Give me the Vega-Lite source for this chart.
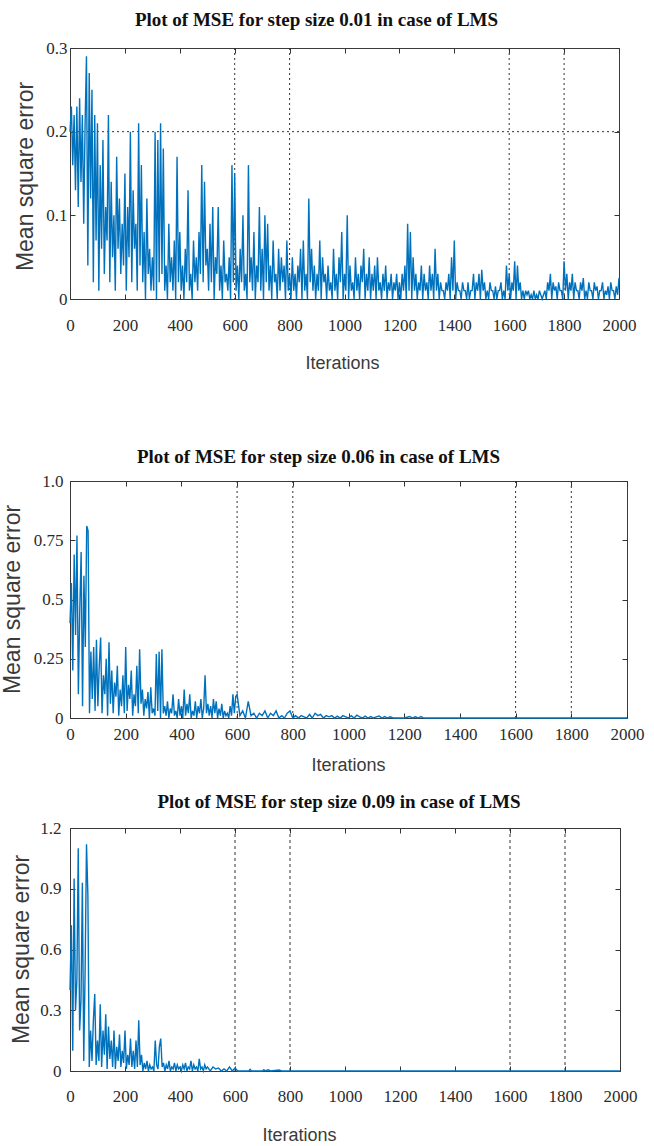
{
"$schema": "https://vega.github.io/schema/vega-lite/v6.json",
"background": "white",
"padding": {"top": 10, "left": 0, "right": 0, "bottom": 0},
"config": {
  "view": {"stroke": "#3a3a3a", "strokeWidth": 1},
  "axis": {"grid": false, "domain": false, "labelFont": "Liberation Serif", "labelFontSize": 17, "labelColor": "#2b2b2b", "labelOverlap": false, "labelFlush": false, "titleFont": "Liberation Sans", "titleFontWeight": "normal", "titleColor": "#3a3a3a", "tickColor": "#333", "tickSize": -5, "tickWidth": 1},
  "title": {"font": "Liberation Serif", "fontSize": 19, "fontWeight": "bold", "color": "#111"}
},
"datasets": {
  "vgrid": [{"it": 600}, {"it": 800}, {"it": 1600}, {"it": 1800}],
  "hgrid": [{"mse": 0.2}],
  "s001": [
{"it":0,"mse":0.20},{"it":5,"mse":0.23},{"it":10,"mse":0.16},{"it":15,"mse":0.22},{"it":20,"mse":0.13},{"it":25,"mse":0.23},{"it":30,"mse":0.11},{"it":35,"mse":0.24},{"it":40,"mse":0.14},{"it":45,"mse":0.22},{"it":50,"mse":0.09},{"it":55,"mse":0.21},{"it":60,"mse":0.29},{"it":65,"mse":0.04},{"it":70,"mse":0.27},{"it":75,"mse":0.12},{"it":80,"mse":0.25},{"it":85,"mse":0.02},{"it":90,"mse":0.22},{"it":95,"mse":0.07},
{"it":100,"mse":0.21},{"it":105,"mse":0.01},{"it":110,"mse":0.16},{"it":115,"mse":0.06},{"it":120,"mse":0.19},{"it":125,"mse":0.03},{"it":130,"mse":0.11},{"it":135,"mse":0.07},{"it":140,"mse":0.22},{"it":145,"mse":0.02},{"it":150,"mse":0.14},{"it":155,"mse":0.05},{"it":160,"mse":0.10},{"it":165,"mse":0.01},{"it":170,"mse":0.17},{"it":175,"mse":0.06},{"it":180,"mse":0.12},{"it":185,"mse":0.03},{"it":190,"mse":0.09},{"it":195,"mse":0.04},
{"it":200,"mse":0.15},{"it":205,"mse":0.01},{"it":210,"mse":0.11},{"it":215,"mse":0.05},{"it":220,"mse":0.20},{"it":225,"mse":0.02},{"it":230,"mse":0.13},{"it":235,"mse":0.06},{"it":240,"mse":0.09},{"it":245,"mse":0.01},{"it":250,"mse":0.21},{"it":255,"mse":0.04},{"it":260,"mse":0.16},{"it":265,"mse":0.02},{"it":270,"mse":0.08},{"it":275,"mse":0.00},{"it":280,"mse":0.12},{"it":285,"mse":0.03},{"it":290,"mse":0.06},{"it":295,"mse":0.01},
{"it":300,"mse":0.05},{"it":305,"mse":0.01},{"it":310,"mse":0.20},{"it":315,"mse":0.00},{"it":320,"mse":0.19},{"it":325,"mse":0.02},{"it":330,"mse":0.21},{"it":335,"mse":0.03},{"it":340,"mse":0.18},{"it":345,"mse":0.01},{"it":350,"mse":0.04},{"it":355,"mse":0.00},{"it":360,"mse":0.09},{"it":365,"mse":0.02},{"it":370,"mse":0.05},{"it":375,"mse":0.01},{"it":380,"mse":0.07},{"it":385,"mse":0.00},{"it":390,"mse":0.17},{"it":395,"mse":0.02},
{"it":400,"mse":0.08},{"it":405,"mse":0.01},{"it":410,"mse":0.04},{"it":415,"mse":0.00},{"it":420,"mse":0.06},{"it":425,"mse":0.02},{"it":430,"mse":0.13},{"it":435,"mse":0.01},{"it":440,"mse":0.03},{"it":445,"mse":0.00},{"it":450,"mse":0.07},{"it":455,"mse":0.02},{"it":460,"mse":0.05},{"it":465,"mse":0.01},{"it":470,"mse":0.08},{"it":475,"mse":0.03},{"it":480,"mse":0.16},{"it":485,"mse":0.02},{"it":490,"mse":0.14},{"it":495,"mse":0.04},
{"it":500,"mse":0.06},{"it":505,"mse":0.01},{"it":510,"mse":0.09},{"it":515,"mse":0.02},{"it":520,"mse":0.11},{"it":525,"mse":0.00},{"it":530,"mse":0.05},{"it":535,"mse":0.03},{"it":540,"mse":0.11},{"it":545,"mse":0.01},{"it":550,"mse":0.04},{"it":555,"mse":0.00},{"it":560,"mse":0.07},{"it":565,"mse":0.02},{"it":570,"mse":0.03},{"it":575,"mse":0.01},{"it":580,"mse":0.05},{"it":585,"mse":0.00},{"it":590,"mse":0.16},{"it":595,"mse":0.02},
{"it":600,"mse":0.15},{"it":605,"mse":0.01},{"it":610,"mse":0.04},{"it":615,"mse":0.00},{"it":620,"mse":0.06},{"it":625,"mse":0.02},{"it":630,"mse":0.10},{"it":635,"mse":0.01},{"it":640,"mse":0.03},{"it":645,"mse":0.00},{"it":650,"mse":0.16},{"it":655,"mse":0.02},{"it":660,"mse":0.05},{"it":665,"mse":0.01},{"it":670,"mse":0.08},{"it":675,"mse":0.00},{"it":680,"mse":0.04},{"it":685,"mse":0.02},{"it":690,"mse":0.11},{"it":695,"mse":0.01},
{"it":700,"mse":0.06},{"it":705,"mse":0.00},{"it":710,"mse":0.10},{"it":715,"mse":0.02},{"it":720,"mse":0.09},{"it":725,"mse":0.01},{"it":730,"mse":0.04},{"it":735,"mse":0.00},{"it":740,"mse":0.07},{"it":745,"mse":0.02},{"it":750,"mse":0.03},{"it":755,"mse":0.00},{"it":760,"mse":0.06},{"it":765,"mse":0.01},{"it":770,"mse":0.05},{"it":775,"mse":0.02},{"it":780,"mse":0.04},{"it":785,"mse":0.00},{"it":790,"mse":0.07},{"it":795,"mse":0.01},
{"it":800,"mse":0.03},{"it":805,"mse":0.00},{"it":810,"mse":0.05},{"it":815,"mse":0.01},{"it":820,"mse":0.03},{"it":825,"mse":0.00},{"it":830,"mse":0.04},{"it":835,"mse":0.02},{"it":840,"mse":0.06},{"it":845,"mse":0.00},{"it":850,"mse":0.07},{"it":855,"mse":0.01},{"it":860,"mse":0.03},{"it":865,"mse":0.00},{"it":870,"mse":0.12},{"it":875,"mse":0.02},{"it":880,"mse":0.06},{"it":885,"mse":0.01},{"it":890,"mse":0.04},{"it":895,"mse":0.00},
{"it":900,"mse":0.03},{"it":905,"mse":0.01},{"it":910,"mse":0.07},{"it":915,"mse":0.00},{"it":920,"mse":0.05},{"it":925,"mse":0.02},{"it":930,"mse":0.03},{"it":935,"mse":0.00},{"it":940,"mse":0.04},{"it":945,"mse":0.01},{"it":950,"mse":0.02},{"it":955,"mse":0.00},{"it":960,"mse":0.06},{"it":965,"mse":0.01},{"it":970,"mse":0.03},{"it":975,"mse":0.00},{"it":980,"mse":0.05},{"it":985,"mse":0.02},{"it":990,"mse":0.08},{"it":995,"mse":0.00},
{"it":1000,"mse":0.03},{"it":1005,"mse":0.01},{"it":1010,"mse":0.10},{"it":1015,"mse":0.00},{"it":1020,"mse":0.04},{"it":1025,"mse":0.01},{"it":1030,"mse":0.02},{"it":1035,"mse":0.00},{"it":1040,"mse":0.05},{"it":1045,"mse":0.01},{"it":1050,"mse":0.03},{"it":1055,"mse":0.00},{"it":1060,"mse":0.04},{"it":1065,"mse":0.02},{"it":1070,"mse":0.06},{"it":1075,"mse":0.00},{"it":1080,"mse":0.03},{"it":1085,"mse":0.01},{"it":1090,"mse":0.05},{"it":1095,"mse":0.00},
{"it":1100,"mse":0.03},{"it":1105,"mse":0.01},{"it":1110,"mse":0.04},{"it":1115,"mse":0.00},{"it":1120,"mse":0.05},{"it":1125,"mse":0.01},{"it":1130,"mse":0.02},{"it":1135,"mse":0.00},{"it":1140,"mse":0.03},{"it":1145,"mse":0.01},{"it":1150,"mse":0.04},{"it":1155,"mse":0.00},{"it":1160,"mse":0.02},{"it":1165,"mse":0.01},{"it":1170,"mse":0.03},{"it":1175,"mse":0.00},{"it":1180,"mse":0.02},{"it":1185,"mse":0.01},{"it":1190,"mse":0.03},{"it":1195,"mse":0.00},
{"it":1200,"mse":0.02},{"it":1205,"mse":0.00},{"it":1210,"mse":0.03},{"it":1215,"mse":0.01},{"it":1220,"mse":0.04},{"it":1225,"mse":0.00},{"it":1230,"mse":0.09},{"it":1235,"mse":0.01},{"it":1240,"mse":0.08},{"it":1245,"mse":0.00},{"it":1250,"mse":0.05},{"it":1255,"mse":0.01},{"it":1260,"mse":0.03},{"it":1265,"mse":0.00},{"it":1270,"mse":0.02},{"it":1275,"mse":0.01},{"it":1280,"mse":0.04},{"it":1285,"mse":0.00},{"it":1290,"mse":0.03},{"it":1295,"mse":0.01},
{"it":1300,"mse":0.02},{"it":1305,"mse":0.00},{"it":1310,"mse":0.04},{"it":1315,"mse":0.01},{"it":1320,"mse":0.03},{"it":1325,"mse":0.00},{"it":1330,"mse":0.06},{"it":1335,"mse":0.01},{"it":1340,"mse":0.03},{"it":1345,"mse":0.00},{"it":1350,"mse":0.02},{"it":1355,"mse":0.01},{"it":1360,"mse":0.01},{"it":1365,"mse":0.00},{"it":1370,"mse":0.02},{"it":1375,"mse":0.01},{"it":1380,"mse":0.03},{"it":1385,"mse":0.00},{"it":1390,"mse":0.05},{"it":1395,"mse":0.01},
{"it":1400,"mse":0.07},{"it":1405,"mse":0.00},{"it":1410,"mse":0.02},{"it":1415,"mse":0.01},{"it":1420,"mse":0.01},{"it":1425,"mse":0.00},{"it":1430,"mse":0.02},{"it":1435,"mse":0.01},{"it":1440,"mse":0.01},{"it":1445,"mse":0.00},{"it":1450,"mse":0.02},{"it":1455,"mse":0.00},{"it":1460,"mse":0.01},{"it":1465,"mse":0.01},{"it":1470,"mse":0.03},{"it":1475,"mse":0.00},{"it":1480,"mse":0.02},{"it":1485,"mse":0.01},{"it":1490,"mse":0.03},{"it":1495,"mse":0.00},
{"it":1500,"mse":0.035},{"it":1505,"mse":0.01},{"it":1510,"mse":0.02},{"it":1515,"mse":0.00},{"it":1520,"mse":0.01},{"it":1525,"mse":0.00},{"it":1530,"mse":0.02},{"it":1535,"mse":0.01},{"it":1540,"mse":0.01},{"it":1545,"mse":0.00},{"it":1550,"mse":0.015},{"it":1555,"mse":0.00},{"it":1560,"mse":0.01},{"it":1565,"mse":0.01},{"it":1570,"mse":0.02},{"it":1575,"mse":0.00},{"it":1580,"mse":0.01},{"it":1585,"mse":0.00},{"it":1590,"mse":0.04},{"it":1595,"mse":0.01},
{"it":1600,"mse":0.03},{"it":1605,"mse":0.00},{"it":1610,"mse":0.02},{"it":1615,"mse":0.01},{"it":1620,"mse":0.045},{"it":1625,"mse":0.00},{"it":1630,"mse":0.04},{"it":1635,"mse":0.01},{"it":1640,"mse":0.02},{"it":1645,"mse":0.00},{"it":1650,"mse":0.01},{"it":1655,"mse":0.00},{"it":1660,"mse":0.01},{"it":1665,"mse":0.005},{"it":1670,"mse":0.01},{"it":1675,"mse":0.00},{"it":1680,"mse":0.005},{"it":1685,"mse":0.00},{"it":1690,"mse":0.01},{"it":1695,"mse":0.00},
{"it":1700,"mse":0.005},{"it":1705,"mse":0.00},{"it":1710,"mse":0.01},{"it":1715,"mse":0.005},{"it":1720,"mse":0.00},{"it":1725,"mse":0.005},{"it":1730,"mse":0.01},{"it":1735,"mse":0.00},{"it":1740,"mse":0.02},{"it":1745,"mse":0.01},{"it":1750,"mse":0.03},{"it":1755,"mse":0.00},{"it":1760,"mse":0.02},{"it":1765,"mse":0.01},{"it":1770,"mse":0.015},{"it":1775,"mse":0.00},{"it":1780,"mse":0.02},{"it":1785,"mse":0.01},{"it":1790,"mse":0.01},{"it":1795,"mse":0.00},
{"it":1800,"mse":0.045},{"it":1805,"mse":0.01},{"it":1810,"mse":0.03},{"it":1815,"mse":0.00},{"it":1820,"mse":0.02},{"it":1825,"mse":0.01},{"it":1830,"mse":0.03},{"it":1835,"mse":0.00},{"it":1840,"mse":0.02},{"it":1845,"mse":0.01},{"it":1850,"mse":0.01},{"it":1855,"mse":0.00},{"it":1860,"mse":0.02},{"it":1865,"mse":0.01},{"it":1870,"mse":0.025},{"it":1875,"mse":0.00},{"it":1880,"mse":0.01},{"it":1885,"mse":0.00},{"it":1890,"mse":0.02},{"it":1895,"mse":0.01},
{"it":1900,"mse":0.01},{"it":1905,"mse":0.00},{"it":1910,"mse":0.02},{"it":1915,"mse":0.01},{"it":1920,"mse":0.015},{"it":1925,"mse":0.00},{"it":1930,"mse":0.01},{"it":1935,"mse":0.01},{"it":1940,"mse":0.02},{"it":1945,"mse":0.00},{"it":1950,"mse":0.01},{"it":1955,"mse":0.005},{"it":1960,"mse":0.015},{"it":1965,"mse":0.00},{"it":1970,"mse":0.02},{"it":1975,"mse":0.01},{"it":1980,"mse":0.01},{"it":1985,"mse":0.00},{"it":1990,"mse":0.015},{"it":1995,"mse":0.005},
{"it":2000,"mse":0.025}
  ],
  "s006": [
{"it":0,"mse":0.40},{"it":5,"mse":0.57},{"it":10,"mse":0.20},{"it":15,"mse":0.69},{"it":20,"mse":0.35},{"it":25,"mse":0.77},{"it":30,"mse":0.10},{"it":35,"mse":0.45},{"it":40,"mse":0.70},{"it":45,"mse":0.05},{"it":50,"mse":0.60},{"it":55,"mse":0.30},{"it":60,"mse":0.81},{"it":65,"mse":0.79},{"it":70,"mse":0.02},{"it":75,"mse":0.28},{"it":80,"mse":0.08},{"it":85,"mse":0.30},{"it":90,"mse":0.03},{"it":95,"mse":0.33},
{"it":100,"mse":0.05},{"it":105,"mse":0.22},{"it":110,"mse":0.34},{"it":115,"mse":0.02},{"it":120,"mse":0.18},{"it":125,"mse":0.10},{"it":130,"mse":0.25},{"it":135,"mse":0.01},{"it":140,"mse":0.32},{"it":145,"mse":0.06},{"it":150,"mse":0.20},{"it":155,"mse":0.02},{"it":160,"mse":0.15},{"it":165,"mse":0.09},{"it":170,"mse":0.22},{"it":175,"mse":0.01},{"it":180,"mse":0.12},{"it":185,"mse":0.05},{"it":190,"mse":0.18},{"it":195,"mse":0.02},
{"it":200,"mse":0.30},{"it":205,"mse":0.03},{"it":210,"mse":0.14},{"it":215,"mse":0.08},{"it":220,"mse":0.20},{"it":225,"mse":0.01},{"it":230,"mse":0.10},{"it":235,"mse":0.05},{"it":240,"mse":0.22},{"it":245,"mse":0.02},{"it":250,"mse":0.29},{"it":255,"mse":0.06},{"it":260,"mse":0.12},{"it":265,"mse":0.01},{"it":270,"mse":0.08},{"it":275,"mse":0.04},{"it":280,"mse":0.11},{"it":285,"mse":0.00},{"it":290,"mse":0.13},{"it":295,"mse":0.02},
{"it":300,"mse":0.04},{"it":305,"mse":0.01},{"it":310,"mse":0.27},{"it":315,"mse":0.03},{"it":320,"mse":0.28},{"it":325,"mse":0.00},{"it":330,"mse":0.29},{"it":335,"mse":0.02},{"it":340,"mse":0.05},{"it":345,"mse":0.01},{"it":350,"mse":0.07},{"it":355,"mse":0.00},{"it":360,"mse":0.04},{"it":365,"mse":0.02},{"it":370,"mse":0.10},{"it":375,"mse":0.01},{"it":380,"mse":0.03},{"it":385,"mse":0.00},{"it":390,"mse":0.08},{"it":395,"mse":0.01},
{"it":400,"mse":0.05},{"it":405,"mse":0.00},{"it":410,"mse":0.12},{"it":415,"mse":0.01},{"it":420,"mse":0.06},{"it":425,"mse":0.02},{"it":430,"mse":0.10},{"it":435,"mse":0.00},{"it":440,"mse":0.03},{"it":445,"mse":0.01},{"it":450,"mse":0.07},{"it":455,"mse":0.00},{"it":460,"mse":0.05},{"it":465,"mse":0.02},{"it":470,"mse":0.08},{"it":475,"mse":0.00},{"it":480,"mse":0.04},{"it":485,"mse":0.18},{"it":490,"mse":0.02},{"it":495,"mse":0.06},
{"it":500,"mse":0.01},{"it":505,"mse":0.05},{"it":510,"mse":0.00},{"it":515,"mse":0.08},{"it":520,"mse":0.02},{"it":525,"mse":0.07},{"it":530,"mse":0.00},{"it":535,"mse":0.04},{"it":540,"mse":0.01},{"it":545,"mse":0.06},{"it":550,"mse":0.00},{"it":555,"mse":0.03},{"it":560,"mse":0.01},{"it":565,"mse":0.02},{"it":570,"mse":0.00},{"it":575,"mse":0.05},{"it":580,"mse":0.01},{"it":585,"mse":0.10},{"it":590,"mse":0.02},{"it":595,"mse":0.09},
{"it":600,"mse":0.10},{"it":610,"mse":0.01},{"it":620,"mse":0.03},{"it":630,"mse":0.00},{"it":640,"mse":0.07},{"it":650,"mse":0.01},{"it":660,"mse":0.02},{"it":670,"mse":0.00},{"it":680,"mse":0.02},{"it":690,"mse":0.01},{"it":700,"mse":0.03},{"it":710,"mse":0.00},{"it":720,"mse":0.02},{"it":730,"mse":0.01},{"it":740,"mse":0.03},{"it":750,"mse":0.00},{"it":760,"mse":0.01},{"it":770,"mse":0.00},{"it":780,"mse":0.02},{"it":790,"mse":0.03},
{"it":800,"mse":0.00},{"it":810,"mse":0.01},{"it":820,"mse":0.00},{"it":830,"mse":0.01},{"it":840,"mse":0.005},{"it":850,"mse":0.00},{"it":860,"mse":0.015},{"it":870,"mse":0.00},{"it":880,"mse":0.02},{"it":890,"mse":0.01},{"it":900,"mse":0.015},{"it":910,"mse":0.00},{"it":920,"mse":0.01},{"it":930,"mse":0.005},{"it":940,"mse":0.01},{"it":950,"mse":0.00},{"it":960,"mse":0.008},{"it":970,"mse":0.00},{"it":980,"mse":0.01},{"it":990,"mse":0.005},
{"it":1000,"mse":0.00},{"it":1010,"mse":0.01},{"it":1020,"mse":0.00},{"it":1030,"mse":0.012},{"it":1040,"mse":0.005},{"it":1050,"mse":0.00},{"it":1060,"mse":0.008},{"it":1070,"mse":0.00},{"it":1080,"mse":0.006},{"it":1090,"mse":0.00},{"it":1100,"mse":0.005},{"it":1110,"mse":0.008},{"it":1120,"mse":0.00},{"it":1130,"mse":0.006},{"it":1140,"mse":0.00},{"it":1150,"mse":0.005},{"it":1160,"mse":0.00},{"it":1200,"mse":0.00},{"it":1220,"mse":0.006},{"it":1230,"mse":0.00},{"it":1240,"mse":0.005},{"it":1250,"mse":0.00},{"it":1260,"mse":0.006},{"it":1270,"mse":0.00},
{"it":1400,"mse":0.00},{"it":1600,"mse":0.00},{"it":1800,"mse":0.00},{"it":2000,"mse":0.00}
  ],
  "s009": [
{"it":0,"mse":0.40},{"it":5,"mse":0.72},{"it":10,"mse":0.10},{"it":15,"mse":0.95},{"it":20,"mse":0.30},{"it":25,"mse":0.45},{"it":30,"mse":1.10},{"it":35,"mse":0.20},{"it":40,"mse":0.35},{"it":45,"mse":0.93},{"it":50,"mse":0.05},{"it":55,"mse":0.50},{"it":60,"mse":1.12},{"it":65,"mse":0.87},{"it":70,"mse":0.02},{"it":75,"mse":0.20},{"it":80,"mse":0.05},{"it":85,"mse":0.25},{"it":90,"mse":0.38},{"it":95,"mse":0.03},
{"it":100,"mse":0.15},{"it":105,"mse":0.05},{"it":110,"mse":0.33},{"it":115,"mse":0.02},{"it":120,"mse":0.20},{"it":125,"mse":0.08},{"it":130,"mse":0.28},{"it":135,"mse":0.01},{"it":140,"mse":0.22},{"it":145,"mse":0.06},{"it":150,"mse":0.15},{"it":155,"mse":0.02},{"it":160,"mse":0.20},{"it":165,"mse":0.01},{"it":170,"mse":0.12},{"it":175,"mse":0.05},{"it":180,"mse":0.18},{"it":185,"mse":0.02},{"it":190,"mse":0.10},{"it":195,"mse":0.04},
{"it":200,"mse":0.20},{"it":205,"mse":0.01},{"it":210,"mse":0.08},{"it":215,"mse":0.03},{"it":220,"mse":0.16},{"it":225,"mse":0.02},{"it":230,"mse":0.10},{"it":235,"mse":0.01},{"it":240,"mse":0.15},{"it":245,"mse":0.02},{"it":250,"mse":0.25},{"it":255,"mse":0.03},{"it":260,"mse":0.08},{"it":265,"mse":0.00},{"it":270,"mse":0.04},{"it":275,"mse":0.01},{"it":280,"mse":0.05},{"it":285,"mse":0.00},{"it":290,"mse":0.03},{"it":295,"mse":0.01},
{"it":300,"mse":0.02},{"it":305,"mse":0.00},{"it":310,"mse":0.15},{"it":315,"mse":0.03},{"it":320,"mse":0.01},{"it":325,"mse":0.12},{"it":330,"mse":0.16},{"it":335,"mse":0.02},{"it":340,"mse":0.04},{"it":345,"mse":0.00},{"it":350,"mse":0.03},{"it":355,"mse":0.01},{"it":360,"mse":0.05},{"it":365,"mse":0.00},{"it":370,"mse":0.02},{"it":375,"mse":0.01},{"it":380,"mse":0.04},{"it":385,"mse":0.00},{"it":390,"mse":0.03},{"it":395,"mse":0.01},
{"it":400,"mse":0.02},{"it":405,"mse":0.00},{"it":410,"mse":0.03},{"it":415,"mse":0.01},{"it":420,"mse":0.04},{"it":425,"mse":0.00},{"it":430,"mse":0.02},{"it":435,"mse":0.01},{"it":440,"mse":0.05},{"it":445,"mse":0.00},{"it":450,"mse":0.03},{"it":455,"mse":0.01},{"it":460,"mse":0.02},{"it":465,"mse":0.00},{"it":470,"mse":0.06},{"it":475,"mse":0.01},{"it":480,"mse":0.02},{"it":485,"mse":0.00},{"it":490,"mse":0.03},{"it":495,"mse":0.01},
{"it":500,"mse":0.02},{"it":510,"mse":0.00},{"it":520,"mse":0.02},{"it":530,"mse":0.01},{"it":540,"mse":0.015},{"it":550,"mse":0.00},{"it":560,"mse":0.01},{"it":570,"mse":0.00},{"it":580,"mse":0.02},{"it":590,"mse":0.00},{"it":600,"mse":0.015},{"it":610,"mse":0.00},{"it":650,"mse":0.00},{"it":655,"mse":0.008},{"it":660,"mse":0.00},{"it":700,"mse":0.00},{"it":705,"mse":0.006},{"it":710,"mse":0.00},{"it":720,"mse":0.006},{"it":730,"mse":0.00},{"it":760,"mse":0.005},{"it":770,"mse":0.00},
{"it":900,"mse":0.00},{"it":1200,"mse":0.00},{"it":1600,"mse":0.00},{"it":2000,"mse":0.00}
  ]
},
"spacing": 74,
"vconcat": [
  {
    "width": 549, "height": 251,
    "title": {"text": "Plot of MSE for step size 0.01 in case of LMS", "dx": -28, "offset": 9},
    "layer": [
      {"data": {"name": "vgrid"}, "mark": {"type": "rule", "strokeDash": [2, 3], "color": "#333", "strokeWidth": 1},
       "encoding": {"x": {"field": "it", "type": "quantitative", "scale": {"domain": [0, 2000], "nice": false}, "axis": null}}},
      {"data": {"name": "hgrid"}, "mark": {"type": "rule", "strokeDash": [2, 3], "color": "#333", "strokeWidth": 1},
       "encoding": {"y": {"field": "mse", "type": "quantitative", "scale": {"domain": [0, 0.3], "nice": false}, "axis": null}}},
      {"data": {"name": "s001"}, "mark": {"type": "line", "color": "#0072BD", "strokeWidth": 1.4},
       "encoding": {
         "x": {"field": "it", "type": "quantitative", "scale": {"domain": [0, 2000], "nice": false},
               "axis": {"values": [0,200,400,600,800,1000,1200,1400,1600,1800,2000], "format": "d", "title": "Iterations", "titleFontSize": 18, "labelPadding": 23, "titleY": 64, "titleX": 272, "titleBaseline": "middle", "titleAlign": "center"}},
         "y": {"field": "mse", "type": "quantitative", "scale": {"domain": [0, 0.3], "nice": false},
               "axis": {"values": [0, 0.1, 0.2, 0.3], "labelExpr": "datum.value == 0 ? '0' : format(datum.value, '.1f')", "labelPadding": 8, "title": "Mean square error", "titleFontSize": 23, "titleX": -45, "titleY": 128, "titleBaseline": "middle", "titleAlign": "center", "titleAngle": 270}}}},
      {"data": {"name": "s001"}, "mark": {"type": "point", "opacity": 0},
       "encoding": {
         "x": {"field": "it", "type": "quantitative", "scale": {"domain": [0, 2000], "nice": false},
               "axis": {"orient": "top", "labels": false, "title": null, "values": [0,200,400,600,800,1000,1200,1400,1600,1800,2000]}},
         "y": {"field": "mse", "type": "quantitative", "scale": {"domain": [0, 0.3], "nice": false},
               "axis": {"orient": "right", "labels": false, "title": null, "values": [0, 0.1, 0.2, 0.3]}}}}
    ],
    "resolve": {"axis": {"x": "independent", "y": "independent"}}
  },
  {
    "vconcat": [
      {
        "width": 557, "height": 237,
        "title": {"text": "Plot of MSE for step size 0.06 in case of LMS", "dx": -30, "offset": 5},
        "layer": [
          {"data": {"name": "vgrid"}, "mark": {"type": "rule", "strokeDash": [2, 3], "color": "#333", "strokeWidth": 1},
           "encoding": {"x": {"field": "it", "type": "quantitative", "scale": {"domain": [0, 2000], "nice": false}, "axis": null}}},
          {"data": {"name": "s006"}, "mark": {"type": "line", "color": "#0072BD", "strokeWidth": 1.4},
           "encoding": {
             "x": {"field": "it", "type": "quantitative", "scale": {"domain": [0, 2000], "nice": false},
                   "axis": {"values": [0,200,400,600,800,1000,1200,1400,1600,1800,2000], "format": "d", "title": "Iterations", "titleFontSize": 18, "labelPadding": 13, "titleY": 47, "titleX": 278, "titleBaseline": "middle", "titleAlign": "center"}},
             "y": {"field": "mse", "type": "quantitative", "scale": {"domain": [0, 1], "nice": false},
                   "axis": {"values": [0, 0.25, 0.5, 0.75, 1], "labelExpr": "datum.value == 0 ? '0' : datum.value == 1 ? '1.0' : format(datum.value, '.2~f')", "labelPadding": 12, "title": "Mean square error", "titleFontSize": 23, "titleX": -58, "titleY": 118, "titleBaseline": "middle", "titleAlign": "center", "titleAngle": 270}}}},
          {"data": {"name": "s006"}, "mark": {"type": "point", "opacity": 0},
           "encoding": {
             "x": {"field": "it", "type": "quantitative", "scale": {"domain": [0, 2000], "nice": false},
                   "axis": {"orient": "top", "labels": false, "title": null, "values": [0,200,400,600,800,1000,1200,1400,1600,1800,2000]}},
             "y": {"field": "mse", "type": "quantitative", "scale": {"domain": [0, 1], "nice": false},
                   "axis": {"orient": "right", "labels": false, "title": null, "values": [0, 0.25, 0.5, 0.75, 1]}}}}
        ],
        "resolve": {"axis": {"x": "independent", "y": "independent"}}
      },
      {
        "width": 550, "height": 243,
        "title": {"text": "Plot of MSE for step size 0.09 in case of LMS", "dx": -6, "offset": 7},
        "layer": [
          {"data": {"name": "vgrid"}, "mark": {"type": "rule", "strokeDash": [3, 3], "color": "#333", "strokeWidth": 1},
           "encoding": {"x": {"field": "it", "type": "quantitative", "scale": {"domain": [0, 2000], "nice": false}, "axis": null}}},
          {"data": {"name": "s009"}, "mark": {"type": "line", "color": "#0072BD", "strokeWidth": 1.4},
           "encoding": {
             "x": {"field": "it", "type": "quantitative", "scale": {"domain": [0, 2000], "nice": false},
                   "axis": {"values": [0,200,400,600,800,1000,1200,1400,1600,1800,2000], "format": "d", "title": "Iterations", "titleFontSize": 18, "labelPadding": 22, "titleY": 64, "titleX": 229, "titleBaseline": "middle", "titleAlign": "center"}},
             "y": {"field": "mse", "type": "quantitative", "scale": {"domain": [0, 1.2], "nice": false},
                   "axis": {"values": [0, 0.3, 0.6, 0.9, 1.2], "labelExpr": "datum.value == 0 ? '0' : format(datum.value, '.1f')", "labelPadding": 14, "title": "Mean square error", "titleFontSize": 23, "titleX": -49, "titleY": 121, "titleBaseline": "middle", "titleAlign": "center", "titleAngle": 270}}}},
          {"data": {"name": "s009"}, "mark": {"type": "point", "opacity": 0},
           "encoding": {
             "x": {"field": "it", "type": "quantitative", "scale": {"domain": [0, 2000], "nice": false},
                   "axis": {"orient": "top", "labels": false, "title": null, "values": [0,200,400,600,800,1000,1200,1400,1600,1800,2000]}},
             "y": {"field": "mse", "type": "quantitative", "scale": {"domain": [0, 1.2], "nice": false},
                   "axis": {"orient": "right", "labels": false, "title": null, "values": [0, 0.3, 0.6, 0.9, 1.2]}}}}
        ],
        "resolve": {"axis": {"x": "independent", "y": "independent"}}
      }
    ],
    "spacing": 17
  }
]
}
